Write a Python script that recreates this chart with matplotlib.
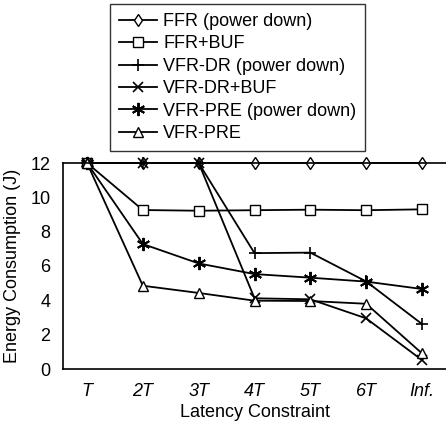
import matplotlib
matplotlib.use("Agg")
import matplotlib.pyplot as plt

plt.rcParams['font.family'] = ['Liberation Sans', 'DejaVu Sans']

x_labels = ["T", "2T", "3T", "4T", "5T", "6T", "Inf."]
ffr_pd = [12.0, 12.0, 12.0, 12.0, 12.0, 12.0, 12.0]
ffr_buf = [12.0, 9.26, 9.22, 9.25, 9.28, 9.25, 9.3]
vfr_dr_pd = [12.0, 12.0, 12.0, 6.75, 6.78, 5.1, 2.62]
vfr_dr_buf = [12.0, 12.0, 12.0, 4.12, 4.06, 2.95, 0.52]
vfr_pre_pd = [12.0, 7.28, 6.15, 5.53, 5.32, 5.09, 4.66]
vfr_pre = [12.0, 4.85, 4.43, 3.98, 3.96, 3.8, 0.91]

series = [
    ("FFR (power down)", ffr_pd, dict(marker='d', ms=6, mfc='white')),
    ("FFR+BUF", ffr_buf, dict(marker='s', ms=7, mfc='white')),
    ("VFR-DR (power down)", vfr_dr_pd, dict(marker='+', ms=9, mew=1.2)),
    ("VFR-DR+BUF", vfr_dr_buf, dict(marker='x', ms=7.5, mew=1.2)),
    ("VFR-PRE (power down)", vfr_pre_pd, dict(marker=(6, 2, 0), ms=9.5, mew=1.4)),
    ("VFR-PRE", vfr_pre, dict(marker='^', ms=7.5, mfc='white')),
]

FS = 13

fig = plt.figure(figsize=(4.46, 4.24), dpi=100)
ax = fig.add_axes([63 / 446, 55 / 424, 383 / 446, 206 / 424])

xs = list(range(len(x_labels)))
handles = []
for name, vals, style in series:
    h, = ax.plot(xs, vals, color='black', lw=1.3, mec='black', label=name,
                 clip_on=False, **style)
    handles.append(h)

ax.set_xlim(-0.43, 6.43)
ax.set_ylim(0, 12)
ax.set_yticks([0, 2, 4, 6, 8, 10, 12])
ax.set_xticks(xs)
ax.set_xticklabels(x_labels, fontstyle='italic')
ax.tick_params(length=0, labelsize=FS)
ax.tick_params(axis='x', pad=10)
ax.tick_params(axis='y', pad=9)
for s in ['left', 'bottom', 'top']:
    ax.spines[s].set_linewidth(1.2)
ax.spines['right'].set_visible(False)

ax.set_xlabel("Latency Constraint", fontsize=FS, labelpad=3)
ax.set_ylabel("Energy Consumption (J)", fontsize=FS, labelpad=7)

leg = fig.legend(handles=handles, loc='upper left',
                 bbox_to_anchor=(110 / 446, 1 - 4 / 424),
                 frameon=True, fancybox=False, edgecolor='black',
                 fontsize=FS, handlelength=2.1, handletextpad=0.35,
                 labelspacing=0.3, borderpad=0.5, borderaxespad=0)
leg.get_frame().set_linewidth(1.0)

fig.savefig("out.png", dpi=100)
